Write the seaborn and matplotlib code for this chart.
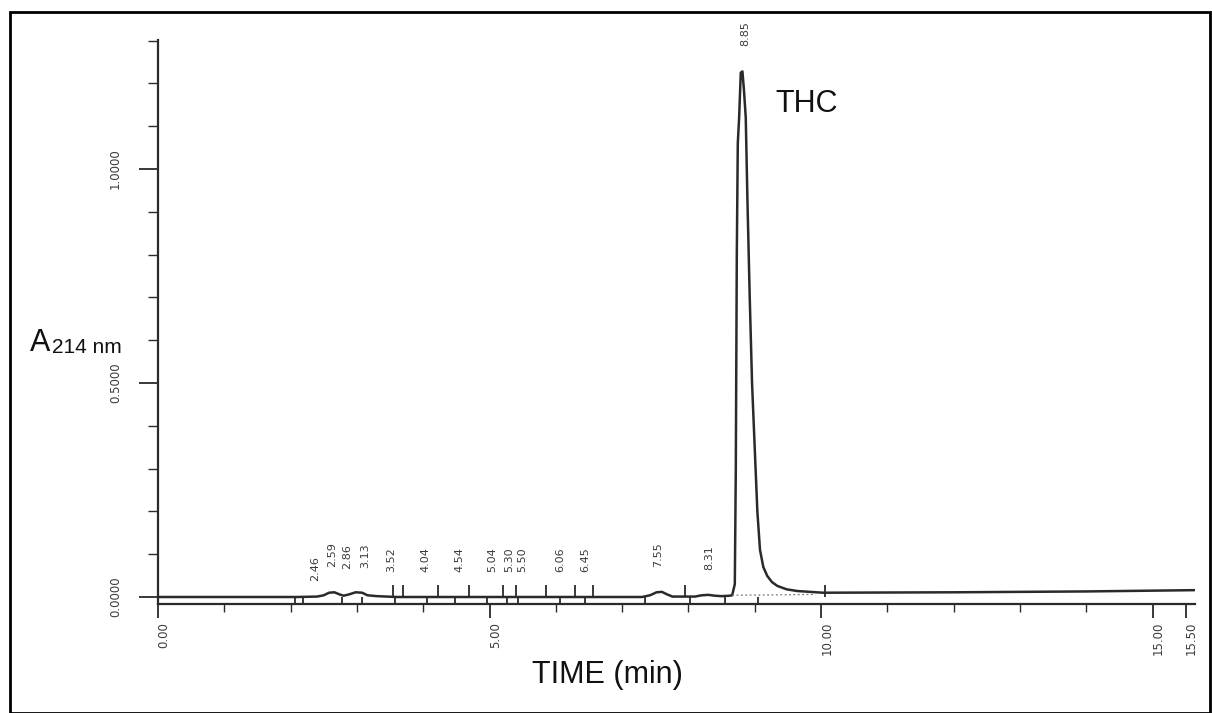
import numpy as np
import pandas as pd
import matplotlib
matplotlib.use("Agg")
import matplotlib.pyplot as plt
import matplotlib.transforms as mtransforms
from matplotlib.patches import Rectangle
from matplotlib.ticker import FixedLocator
import seaborn as sns

# ---------------- data ----------------
time_min = [0.00, 2.10, 2.40, 2.50, 2.58, 2.66, 2.74, 2.80, 2.88, 2.98, 3.08, 3.16,
            3.30, 3.60, 7.30, 7.42, 7.52, 7.60, 7.68, 7.76, 8.10, 8.20, 8.30, 8.40,
            8.50, 8.62, 8.66, 8.70, 8.715, 8.73, 8.745, 8.765, 8.79, 8.815, 8.84,
            8.865, 8.89, 8.925, 8.96, 9.00, 9.04, 9.08, 9.13, 9.19, 9.26, 9.34,
            9.48, 9.64, 10.03, 12.00, 14.00, 15.64]
absorbance = [0.000, 0.000, 0.001, 0.004, 0.010, 0.011, 0.006, 0.003, 0.006, 0.011, 0.010, 0.004,
              0.002, 0.000, 0.000, 0.004, 0.011, 0.012, 0.006, 0.001, 0.001, 0.004, 0.005, 0.003,
              0.002, 0.003, 0.004, 0.030, 0.300, 0.800, 1.060, 1.120, 1.225, 1.228, 1.180,
              1.120, 0.930, 0.700, 0.500, 0.350, 0.200, 0.110, 0.070, 0.049, 0.035, 0.026,
              0.018, 0.014, 0.010, 0.011, 0.013, 0.016]

peak_labels = ["2.46", "2.59", "2.86", "3.13", "3.52", "4.04", "4.54", "5.04", "5.30",
               "5.50", "6.06", "6.45", "7.55", "8.31", "8.85"]
peak_times = [2.46, 2.59, 2.86, 3.13, 3.52, 4.04, 4.54, 5.04, 5.30,
              5.50, 6.06, 6.45, 7.55, 8.31, 8.85]

mark_up_times = [3.54, 3.70, 4.22, 4.69, 5.20, 5.40, 5.85, 6.29, 6.56, 7.95, 10.06]
mark_down_times = [2.07, 2.19, 2.78, 3.08, 3.57, 4.06, 4.48, 4.96, 5.26, 5.43,
                   6.06, 6.44, 7.35, 8.02, 8.55, 9.05]

x_ticks = [0, 5, 10, 15, 15.5]
x_tick_labels = ["0.00", "5.00", "10.00", "15.00", "15.50"]
x_minor_ticks = [1, 2, 3, 4, 6, 7, 8, 9, 11, 12, 13, 14]
y_ticks = [0.0, 0.5, 1.0]
y_tick_labels = ["0.0000", "0.5000", "1.0000"]
y_minor_ticks = [0.1, 0.2, 0.3, 0.4, 0.6, 0.7, 0.8, 0.9, 1.1, 1.2, 1.3]

# ---------------- figure ----------------
sns.set_style("ticks")
plt.rcParams['font.family'] = ['Liberation Sans', 'DejaVu Sans']

W, H = 1212, 713
fig = plt.figure(figsize=(W / 100, H / 100), dpi=100)
fig.patch.set_facecolor("white")

ax_left, ax_right, ax_top, ax_bottom = 158, 1195, 40, 604
ax = fig.add_axes([ax_left / W, (H - ax_bottom) / H,
                   (ax_right - ax_left) / W, (ax_bottom - ax_top) / H])

df = pd.DataFrame({"t": time_min, "A": absorbance})
line_col = "#2a2a2a"
sns.lineplot(data=df, x="t", y="A", ax=ax, color=line_col, lw=1.8,
             estimator=None, sort=False)

# integration baseline under the main peak (dotted)
ax.plot([8.66, 9.90], [0.004, 0.006], ls=(0, (1.5, 2)), color="#777777", lw=0.9)

# event marks on the baseline
ax.vlines(mark_up_times, 0, 0.028, color=line_col, lw=1.3)
ax.vlines(mark_down_times, -0.03, 0, color=line_col, lw=1.3)

# peak retention-time labels (crowded first pair staggered as on the printout)
label_offsets = {"2.46": (-4, 10), "2.59": (2, 18)}
t_arr = np.array(time_min)
a_arr = np.array(absorbance)
for lab, tp in zip(peak_labels, peak_times):
    sel = (t_arr >= tp - 0.1) & (t_arr <= tp + 0.1)
    local = a_arr[sel].max() if sel.any() else np.interp(tp, t_arr, a_arr)
    local = max(local, np.interp(tp, t_arr, a_arr))
    ax.annotate(lab, xy=(tp, local), xytext=label_offsets.get(lab, (0, 18)),
                textcoords="offset points",
                rotation=90, ha="center", va="bottom", fontsize=8,
                color="#3a3a3a", family="DejaVu Sans")

ax.set_xlim(0, (ax_right - ax_left) / 66.3)
y0 = 597
ppu = 428.0
ax.set_ylim(-(ax_bottom - y0) / ppu, (y0 - ax_top) / ppu)

ax.xaxis.set_major_locator(FixedLocator(x_ticks))
ax.set_xticklabels(x_tick_labels)
ax.xaxis.set_minor_locator(FixedLocator(x_minor_ticks))
ax.yaxis.set_major_locator(FixedLocator(y_ticks))
ax.set_yticklabels(y_tick_labels)
ax.yaxis.set_minor_locator(FixedLocator(y_minor_ticks))

ax.tick_params(axis="x", which="major", direction="out", length=10, width=1.3,
               color=line_col, labelsize=8.5, labelcolor="#3a3a3a", labelrotation=90, pad=3)
ax.tick_params(axis="x", which="minor", direction="out", length=6, width=1.0, color=line_col)
ax.tick_params(axis="y", which="major", direction="out", length=14, width=1.3,
               color=line_col, labelsize=8.5, labelcolor="#3a3a3a", labelrotation=90, pad=12)
ax.tick_params(axis="y", which="minor", direction="out", length=7, width=1.0, color=line_col)

for lab in ax.get_xticklabels():
    lab.set_family("DejaVu Sans")
    lab.set_transform(lab.get_transform() +
                      mtransforms.ScaledTranslation(6 / 100, 0, fig.dpi_scale_trans))
for lab in ax.get_yticklabels():
    lab.set_family("DejaVu Sans")
    lab.set_va("center")

for s in ["top", "right"]:
    ax.spines[s].set_visible(False)
for s in ["left", "bottom"]:
    ax.spines[s].set_color(line_col)
    ax.spines[s].set_linewidth(1.6)

ax.set_xlabel("")
ax.set_ylabel("")

# text annotations
fig.text(607 / W, 1 - 683 / H, "TIME (min)", fontsize=22, ha="center", va="baseline",
         color="#111111")
fig.text(775 / W, 1 - 112 / H, "THC", fontsize=22, ha="left", va="baseline", color="#111111")
fig.text(30 / W, 1 - 351 / H, "A", fontsize=22, ha="left", va="baseline", color="#111111")
fig.text(52 / W, 1 - 353 / H, "214 nm", fontsize=15, ha="left", va="baseline", color="#111111")

# outer frame
fig.add_artist(Rectangle((10 / W, 0.5 / H), 1200 / W, (H - 12) / H,
                         transform=fig.transFigure, fill=False, lw=2, ec="black"))

fig.savefig("out.png", dpi=100, facecolor="white")
